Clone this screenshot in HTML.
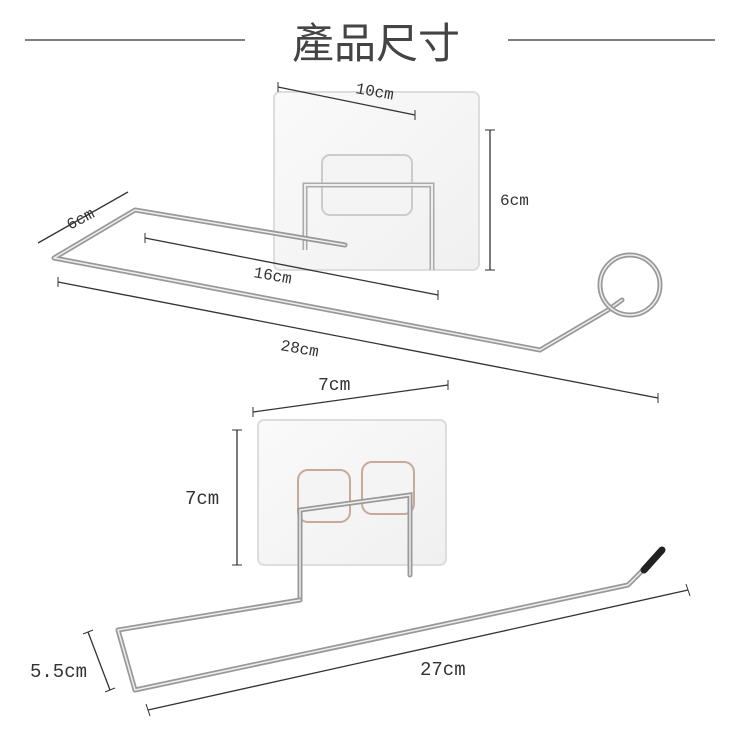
<!DOCTYPE html>
<html><head><meta charset="utf-8"><style>
html,body{margin:0;padding:0;background:#fff;width:750px;height:750px;overflow:hidden}
svg text{font-family:"Liberation Mono","Noto Sans CJK TC",monospace;fill:#333}
</style></head><body>
<svg width="750" height="750" viewBox="0 0 750 750" xmlns="http://www.w3.org/2000/svg">
<defs>
<linearGradient id="pl" x1="0" y1="0" x2="1" y2="1"><stop offset="0" stop-color="#fafafa"/><stop offset="1" stop-color="#f0f0f0"/></linearGradient>
</defs>
<!-- title -->
<line x1="25" y1="40" x2="245" y2="40" stroke="#555" stroke-width="1.5"/>
<line x1="508" y1="40" x2="715" y2="40" stroke="#555" stroke-width="1.5"/>
<text x="376" y="58" text-anchor="middle" font-size="42" style="font-family:'Noto Sans CJK TC',sans-serif;fill:#444">產品尺寸</text>

<!-- top plate -->
<rect x="274" y="92" width="205" height="178" rx="6" fill="url(#pl)" stroke="#ddd" stroke-width="2"/>
<rect x="322" y="155" width="90" height="60" rx="8" fill="#f4f4f4" stroke="#ccc" stroke-width="2"/>
<path d="M305 250 V185 H432 V270" fill="none" stroke="#aaa" stroke-width="5"/>
<path d="M305 250 V185 H432 V270" fill="none" stroke="#eee" stroke-width="2"/>
<!-- top dims -->
<line x1="278" y1="87" x2="415" y2="115" stroke="#333" stroke-width="1.3"/>
<line x1="278" y1="82" x2="278" y2="92" stroke="#333"/><line x1="415" y1="110" x2="415" y2="120" stroke="#333"/>
<text x="355" y="93" font-size="16" transform="rotate(10 355 93)">10cm</text>
<line x1="490" y1="130" x2="490" y2="270" stroke="#333" stroke-width="1.3"/>
<line x1="485" y1="130" x2="495" y2="130" stroke="#333"/><line x1="485" y1="270" x2="495" y2="270" stroke="#333"/>
<text x="500" y="205" font-size="16">6cm</text>
<line x1="38" y1="243" x2="128" y2="192" stroke="#333" stroke-width="1.3"/>
<text x="70" y="230" font-size="16" transform="rotate(-28 70 230)">6cm</text>
<line x1="145" y1="238" x2="438" y2="295" stroke="#333" stroke-width="1.3"/>
<line x1="145" y1="233" x2="145" y2="243" stroke="#333"/><line x1="438" y1="290" x2="438" y2="300" stroke="#333"/>
<text x="253" y="277" font-size="16" transform="rotate(10 253 277)">16cm</text>
<line x1="58" y1="282" x2="658" y2="398" stroke="#333" stroke-width="1.3"/>
<line x1="58" y1="277" x2="58" y2="287" stroke="#333"/><line x1="658" y1="393" x2="658" y2="403" stroke="#333"/>
<text x="280" y="350" font-size="16" transform="rotate(10 280 350)">28cm</text>
<!-- top wire -->
<g fill="none" stroke-linecap="round" stroke-linejoin="round">
<path d="M540 350 L54 258 L135 210 L345 245 M540 350 L608 310 L622 300" stroke="#999" stroke-width="5"/>
<path d="M540 350 L54 258 L135 210 L345 245 M540 350 L608 310 L622 300" stroke="#eee" stroke-width="1.5"/>
<circle cx="630" cy="285" r="30" stroke="#999" stroke-width="5"/>
<circle cx="630" cy="285" r="30" stroke="#eee" stroke-width="1.5"/>
</g>

<!-- bottom plate -->
<rect x="258" y="420" width="188" height="145" rx="6" fill="url(#pl)" stroke="#ddd" stroke-width="2"/>
<rect x="298" y="470" width="52" height="52" rx="10" fill="#f4f4f4" stroke="#c8a89a" stroke-width="2"/>
<rect x="362" y="462" width="52" height="52" rx="10" fill="#f4f4f4" stroke="#c8a89a" stroke-width="2"/>
<g fill="none" stroke-linecap="round">
<path d="M300 600 V510 L410 495 V575" stroke="#999" stroke-width="5"/>
<path d="M300 600 V510 L410 495 V575" stroke="#eee" stroke-width="1.5"/>
</g>
<!-- bottom dims -->
<line x1="253" y1="412" x2="448" y2="385" stroke="#333" stroke-width="1.3"/>
<line x1="253" y1="407" x2="253" y2="417" stroke="#333"/><line x1="448" y1="380" x2="448" y2="390" stroke="#333"/>
<text x="318" y="390" font-size="18">7cm</text>
<line x1="237" y1="430" x2="237" y2="565" stroke="#333" stroke-width="1.3"/>
<line x1="232" y1="430" x2="242" y2="430" stroke="#333"/><line x1="232" y1="565" x2="242" y2="565" stroke="#333"/>
<text x="185" y="504" font-size="19">7cm</text>
<line x1="88" y1="632" x2="110" y2="690" stroke="#333" stroke-width="1.3"/>
<line x1="83" y1="634" x2="93" y2="630" stroke="#333"/><line x1="105" y1="692" x2="115" y2="688" stroke="#333"/>
<text x="30" y="677" font-size="19">5.5cm</text>
<line x1="148" y1="710" x2="688" y2="590" stroke="#333" stroke-width="1.3"/>
<line x1="146" y1="704" x2="150" y2="716" stroke="#333"/><line x1="686" y1="584" x2="690" y2="596" stroke="#333"/>
<text x="420" y="675" font-size="19">27cm</text>
<!-- bottom wire -->
<g fill="none" stroke-linecap="round" stroke-linejoin="round">
<path d="M300 600 L118 630 L135 690 L628 585 L648 565" stroke="#999" stroke-width="5"/>
<path d="M300 600 L118 630 L135 690 L628 585 L648 565" stroke="#eee" stroke-width="1.5"/>
<line x1="644" y1="570" x2="662" y2="550" stroke="#222" stroke-width="7"/>
</g>
</svg>
</body></html>
